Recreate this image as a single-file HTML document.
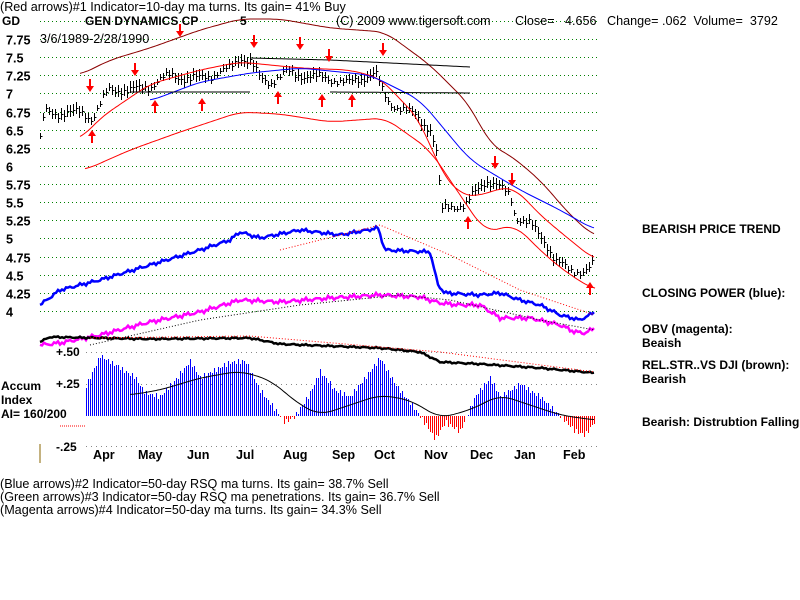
<!DOCTYPE html>
<html><head><meta charset="utf-8"><style>
body{margin:0;background:#fff;width:800px;height:600px;overflow:hidden}
svg{position:absolute;left:0;top:0}
text{font-family:"Liberation Sans",sans-serif;font-size:12.6px;fill:#000}
.b{font-weight:bold;font-size:12px}
</style></head><body>
<svg id="s" width="800" height="600" xmlns="http://www.w3.org/2000/svg">
<g id="grid"></g>
<text x="0" y="11">(Red arrows)#1 Indicator=10-day ma turns. Its gain= 41% Buy</text>
<text x="2" y="25" class="b">GD</text>
<text x="85" y="25" class="b">GEN DYNAMICS CP</text>
<text x="240" y="25" class="b">5</text>
<text x="336" y="25">(C) 2009 www.tigersoft.com</text>
<text x="515" y="25" xml:space="preserve">Close=   4.656   Change= .062  Volume=  3792</text>
<text x="40" y="43">3/6/1989-2/28/1990</text>
<g id="lab" class="b"></g>
<g id="draw"></g>
<text x="642" y="233" class="b">BEARISH PRICE TREND</text>
<text x="642" y="297" class="b">CLOSING POWER (blue):</text>
<text x="642" y="333" class="b">OBV (magenta):</text>
<text x="642" y="347" class="b">Beaish</text>
<text x="642" y="369" class="b">REL.STR..VS DJI (brown):</text>
<text x="642" y="383" class="b">Bearish</text>
<text x="642" y="426" class="b">Bearish: Distrubtion Falling.</text>
<text x="1" y="390" class="b">Accum</text>
<text x="1" y="404" class="b">Index</text>
<text x="1" y="418" class="b">AI= 160/200</text>
<text x="56" y="356" class="b">+.50</text>
<text x="56" y="388" class="b">+.25</text>
<text x="56" y="451" class="b">-.25</text>
<line x1="40" y1="444" x2="40" y2="463" stroke="#886600"/>
<line x1="60" y1="426" x2="86" y2="426" stroke="red" stroke-dasharray="1 1"/>
<text x="0" y="488">(Blue arrows)#2 Indicator=50-day RSQ ma turns. Its gain= 38.7% Sell</text>
<text x="0" y="501">(Green arrows)#3 Indicator=50-day RSQ ma penetrations. Its gain= 36.7% Sell</text>
<text x="0" y="514">(Magenta arrows)#4 Indicator=50-day ma turns. Its gain= 34.3% Sell</text>
</svg>
<script>
var NS="http://www.w3.org/2000/svg",D=document.getElementById("draw"),G=document.getElementById("grid"),L=document.getElementById("lab");
function el(p,t,a){var e=document.createElementNS(NS,t);for(var k in a)e.setAttribute(k,a[k]);p.appendChild(e);return e;}
function py(p){return 39+(7.75-p)*72.5;}
var labs=["8","7.75","7.5","7.25","7","6.75","6.5","6.25","6","5.75","5.5","5.25","5","4.75","4.5","4.25","4"];
for(var i=0;i<labs.length;i++){var y=Math.round(py(parseFloat(labs[i])))+.5;
 if(i>0){var t=el(L,"text",{x:6,y:y+5});t.textContent=labs[i];}
 el(G,"line",{x1:40,y1:y,x2:597,y2:y,stroke:"#008000","stroke-dasharray":"1 3","shape-rendering":"crispEdges"});}
[352,384,446].forEach(function(y){el(G,"line",{x1:86,y1:y+.5,x2:597,y2:y+.5,stroke:"#888","stroke-dasharray":"1 4","shape-rendering":"crispEdges"});});
var mons=[["Apr",93],["May",138],["Jun",187],["Jul",236],["Aug",283],["Sep",332],["Oct",374],["Nov",424],["Dec",470],["Jan",514],["Feb",563]];
mons.forEach(function(m){var t=el(L,"text",{x:m[1],y:459});t.textContent=m[0];});
function interp(pts,x){for(var i=1;i<pts.length;i++)if(x<=pts[i][0]){var a=pts[i-1],b=pts[i];return a[1]+(b[1]-a[1])*(x-a[0])/(b[0]-a[0]);}return pts[pts.length-1][1];}
function sm(pts,x){var s=0;for(var k=-6;k<=6;k++)s+=interp(pts,Math.max(pts[0][0],Math.min(pts[pts.length-1][0],x+k*2)));return s/13;}
function line(pts,c,w,d,noise,smooth){var s="";for(var x=pts[0][0];x<=pts[pts.length-1][0];x+=2){var y=(smooth?sm(pts,x):interp(pts,x))+(noise?Math.sin(x*1.7)*noise+Math.sin(x*0.53)*noise:0);s+=(s?"L":"M")+x+" "+y.toFixed(1);}
 var a={d:s,stroke:c,"stroke-width":w,fill:"none"};if(d)a["stroke-dasharray"]=d;el(D,"path",a);}
// price
var P=[[40,6.35],[44,6.75],[60,6.72],[80,6.75],[92,6.65],[100,6.85],[108,7.05],[130,7.05],[150,7.1],[160,7.2],[170,7.25],[190,7.2],[210,7.25],[230,7.35],[240,7.5],[250,7.45],[260,7.2],[270,7.15],[285,7.3],[295,7.25],[310,7.25],[330,7.2],[350,7.15],[360,7.2],[375,7.3],[383,7.0],[390,6.85],[400,6.8],[415,6.7],[430,6.5],[438,6.1],[440,5.4],[450,5.45],[465,5.45],[475,5.65],[485,5.8],[495,5.75],[510,5.6],[515,5.3],[530,5.2],[545,4.95],[555,4.7],[570,4.55],[585,4.55],[593,4.65]].map(function(p){return[p[0],py(p[1])];});
var pb="";
for(var x=40;x<=594;x+=3){var y=Math.round(interp(P,x)+Math.sin(x*2.3)*3+Math.sin(x*0.9)*2);var h=3+Math.round(Math.abs(Math.sin(x*1.1))*3);pb+="M"+(x+.5)+" "+(y-h)+"V"+(y+h)+"M"+(x+.5)+" "+(y+.5)+"h2";}
el(D,"path",{d:pb,stroke:"#000","stroke-width":1,fill:"none","shape-rendering":"crispEdges"});
// bands
line([[80,75],[110,60],[150,48],[200,30],[240,19],[280,19],[330,28],[385,32],[430,65],[470,105],[490,145],[510,155],[540,180],[570,215],[595,237]],"#8b0000",1,null,0,1);
line([[80,140],[100,118],[150,84],[200,70],[240,62],[300,68],[350,70],[380,78],[420,120],[440,170],[460,195],[480,196],[500,188],[515,188],[540,215],[570,240],[595,260]],"#f00",1,null,0,1);
line([[85,170],[130,150],[180,132],[240,112],[280,114],[330,122],[385,118],[430,150],[460,195],[485,232],[515,225],[545,255],[570,275],[595,290]],"#f00",1,null,0,1);
line([[150,101],[200,82],[250,73],[300,68],[370,75],[420,100],[470,160],[520,190],[560,210],[595,230]],"#00f",1,null,0,1);
line([[250,58],[330,60],[470,67]],"#000",1);line([[330,92],[470,93]],"#000",1);line([[130,92],[250,92]],"#000",1);
// indicators
line([[40,305],[60,290],[100,280],[150,265],[200,250],[230,240],[240,232],[260,238],[300,230],[340,235],[378,228],[385,250],[430,252],[438,285],[445,293],[480,295],[500,293],[520,300],[540,305],[560,315],[580,320],[595,312]],"#0000ff",2.5,null,1);
line([[40,345],[60,343],[100,335],[150,322],[200,312],[240,300],[280,302],[330,298],[380,295],[420,297],[440,303],[460,305],[480,305],[500,318],[530,318],[560,325],[575,332],[585,333],[595,328]],"#ff00ff",2.5,null,1.2);
line([[280,250],[380,225],[450,255],[520,290],[595,315]],"#f00",1,"1 2");
line([[90,345],[200,320],[300,305],[400,295],[450,300],[540,320],[595,330]],"#000",1,"1 2");
line([[40,342],[50,337],[100,338],[150,339],[250,338],[280,344],[330,346],[380,348],[420,352],[440,362],[480,364],[540,368],[595,373]],"#000",2.5,null,.5);
line([[90,338],[250,336],[440,352],[595,372]],"#f00",1,"1 2");
// accum
var A=[[85,.22],[100,.47],[115,.4],[135,.3],[145,.18],[160,.15],[175,.28],[190,.43],[200,.3],[230,.42],[245,.43],[260,.2],[275,.05],[285,-.05],[295,0],[310,.18],[320,.35],[335,.2],[350,.15],[380,.45],[395,.25],[420,0],[435,-.18],[445,-.05],[460,-.12],[475,.15],[490,.3],[500,.15],[520,.25],[540,.15],[560,0],[575,-.12],[585,-.15],[594,-.05]];
var ab="",ar="";
for(var x=86;x<=594;x+=2){var v=interp(A,x)+Math.sin(x*1.3)*.02;var y=Math.round(416-v*128);var s="M"+(x+.5)+" 416V"+y;if(v>=0)ab+=s;else ar+=s;}
el(D,"path",{d:ab,stroke:"#0000ff",fill:"none","shape-rendering":"crispEdges"});
el(D,"path",{d:ar,stroke:"#ff0000",fill:"none","shape-rendering":"crispEdges"});
line([[130,395],[160,390],[200,378],[240,371],[270,380],[300,405],[320,415],[350,405],[380,395],[410,400],[440,418],[470,410],[500,395],[530,405],[560,415],[594,420]],"#000",1,null,0,1);
// arrows
function arr(x,y,up){var d=up?"M"+x+" "+y+"l-4 6h3v7h2v-7h3z":"M"+x+" "+y+"l-4 -6h3v-7h2v7h3z";el(D,"path",{d:d,fill:"red"});}
[[90,92],[135,76],[180,37],[254,48],[300,50],[329,62],[383,56],[495,169],[512,186]].forEach(function(a){arr(a[0],a[1],false);});
[[92,130],[155,100],[202,98],[278,91],[322,94],[352,94],[468,216],[590,282]].forEach(function(a){arr(a[0],a[1],true);});
</script>
</body></html>
